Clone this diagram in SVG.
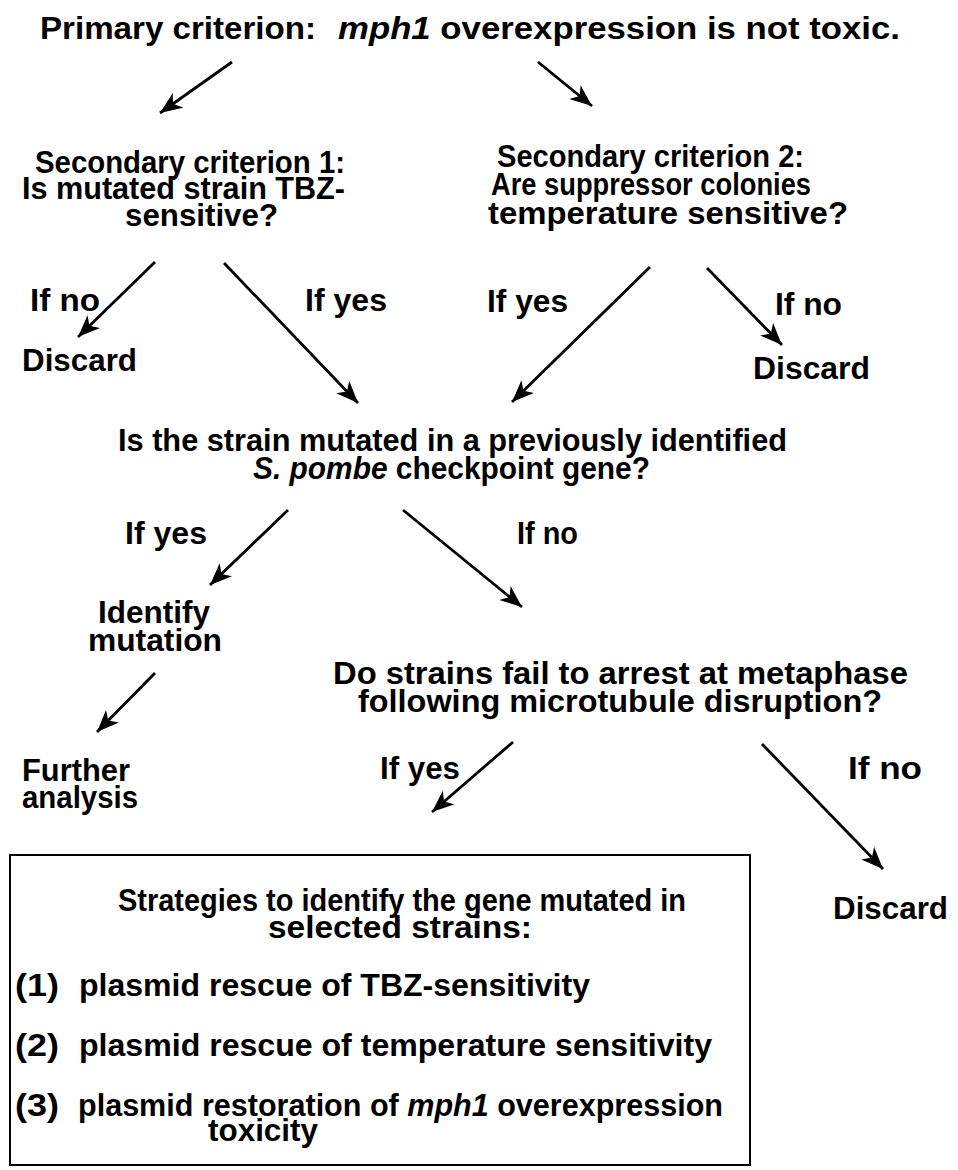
<svg xmlns="http://www.w3.org/2000/svg" width="958" height="1170" viewBox="0 0 958 1170">
<defs>
<style>
text{font-family:"Liberation Sans",Arial,sans-serif;font-weight:bold;font-size:31px;fill:#000}
.it{font-style:italic}
.c{stroke:#000;stroke-width:2.8;fill:none;marker-end:url(#ah)}
</style>
<marker id="ah" markerUnits="userSpaceOnUse" markerWidth="24" markerHeight="20" refX="22" refY="9" orient="auto">
<path d="M0,0 L22,9 L0,18 L6,9 z" fill="#000"/>
</marker>
</defs>
<rect width="958" height="1170" fill="#fff"/>
<g id="primary">
<text x="40" y="39" textLength="276" lengthAdjust="spacingAndGlyphs">Primary criterion:</text>
<text x="338" y="39" textLength="562" lengthAdjust="spacingAndGlyphs"><tspan class="it">mph1</tspan> overexpression is not toxic.</text>
</g>
<g id="secondary1">
<text x="35" y="173" textLength="310" lengthAdjust="spacingAndGlyphs">Secondary criterion 1:</text>
<text x="22" y="199" textLength="323" lengthAdjust="spacingAndGlyphs">Is mutated strain TBZ-</text>
<text x="125" y="226" textLength="153" lengthAdjust="spacingAndGlyphs">sensitive?</text>
</g>
<g id="secondary2">
<text x="497" y="167" textLength="307" lengthAdjust="spacingAndGlyphs">Secondary criterion 2:</text>
<text x="491" y="195" textLength="320" lengthAdjust="spacingAndGlyphs">Are suppressor colonies</text>
<text x="488" y="224" textLength="360" lengthAdjust="spacingAndGlyphs">temperature sensitive?</text>
</g>
<g id="labels1">
<text x="30" y="311" textLength="70" lengthAdjust="spacingAndGlyphs">If no</text>
<text x="305" y="311" textLength="82" lengthAdjust="spacingAndGlyphs">If yes</text>
<text x="487" y="312" textLength="81" lengthAdjust="spacingAndGlyphs">If yes</text>
<text x="775" y="315" textLength="67" lengthAdjust="spacingAndGlyphs">If no</text>
</g>
<g id="discard1"><text x="22" y="371" textLength="115" lengthAdjust="spacingAndGlyphs">Discard</text></g>
<g id="discard2"><text x="753" y="379" textLength="117" lengthAdjust="spacingAndGlyphs">Discard</text></g>
<g id="checkpoint">
<text x="118" y="451" textLength="669" lengthAdjust="spacingAndGlyphs">Is the strain mutated in a previously identified</text>
<text x="253" y="479" textLength="397" lengthAdjust="spacingAndGlyphs"><tspan class="it">S. pombe</tspan> checkpoint gene?</text>
</g>
<g id="labels2">
<text x="125" y="544" textLength="82" lengthAdjust="spacingAndGlyphs">If yes</text>
<text x="517" y="544" textLength="61" lengthAdjust="spacingAndGlyphs">If no</text>
</g>
<g id="identify">
<text x="98" y="623" textLength="112" lengthAdjust="spacingAndGlyphs">Identify</text>
<text x="88" y="651" textLength="134" lengthAdjust="spacingAndGlyphs">mutation</text>
</g>
<g id="metaphase">
<text x="333" y="684" textLength="575" lengthAdjust="spacingAndGlyphs">Do strains fail to arrest at metaphase</text>
<text x="358" y="712" textLength="524" lengthAdjust="spacingAndGlyphs">following microtubule disruption?</text>
</g>
<g id="further">
<text x="22" y="781" textLength="108" lengthAdjust="spacingAndGlyphs">Further</text>
<text x="22" y="808" textLength="116" lengthAdjust="spacingAndGlyphs">analysis</text>
</g>
<g id="labels3">
<text x="380" y="779" textLength="80" lengthAdjust="spacingAndGlyphs">If yes</text>
<text x="848" y="779" textLength="74" lengthAdjust="spacingAndGlyphs">If no</text>
</g>
<g id="discard3"><text x="833" y="919" textLength="115" lengthAdjust="spacingAndGlyphs">Discard</text></g>
<g id="strategies">
<rect x="10" y="855" width="740" height="310" fill="none" stroke="#000" stroke-width="2"/>
<text x="118" y="911" textLength="568" lengthAdjust="spacingAndGlyphs">Strategies to identify the gene mutated in</text>
<text x="268" y="938" textLength="264" lengthAdjust="spacingAndGlyphs">selected strains:</text>
<text x="15" y="996" textLength="44" lengthAdjust="spacingAndGlyphs">(1)</text>
<text x="79" y="996" textLength="511" lengthAdjust="spacingAndGlyphs">plasmid rescue of TBZ-sensitivity</text>
<text x="15" y="1056" textLength="44" lengthAdjust="spacingAndGlyphs">(2)</text>
<text x="79" y="1056" textLength="633" lengthAdjust="spacingAndGlyphs">plasmid rescue of temperature sensitivity</text>
<text x="15" y="1116" textLength="44" lengthAdjust="spacingAndGlyphs">(3)</text>
<text x="78" y="1116" textLength="645" lengthAdjust="spacingAndGlyphs">plasmid restoration of <tspan class="it">mph1</tspan> overexpression</text>
<text x="208" y="1141" textLength="110" lengthAdjust="spacingAndGlyphs">toxicity</text>
</g>
<g id="connectors">
<line class="c" x1="232" y1="62" x2="160" y2="113"/>
<line class="c" x1="538" y1="62" x2="592" y2="106"/>
<line class="c" x1="155" y1="262" x2="78" y2="337"/>
<line class="c" x1="224" y1="263" x2="358" y2="403"/>
<line class="c" x1="650" y1="267" x2="512" y2="402"/>
<line class="c" x1="707" y1="268" x2="782" y2="345"/>
<line class="c" x1="288" y1="510" x2="210" y2="585"/>
<line class="c" x1="403" y1="510" x2="522" y2="607"/>
<line class="c" x1="155" y1="673" x2="97" y2="732"/>
<line class="c" x1="513" y1="742" x2="432" y2="812"/>
<line class="c" x1="762" y1="744" x2="883" y2="869"/>
</g>
</svg>
